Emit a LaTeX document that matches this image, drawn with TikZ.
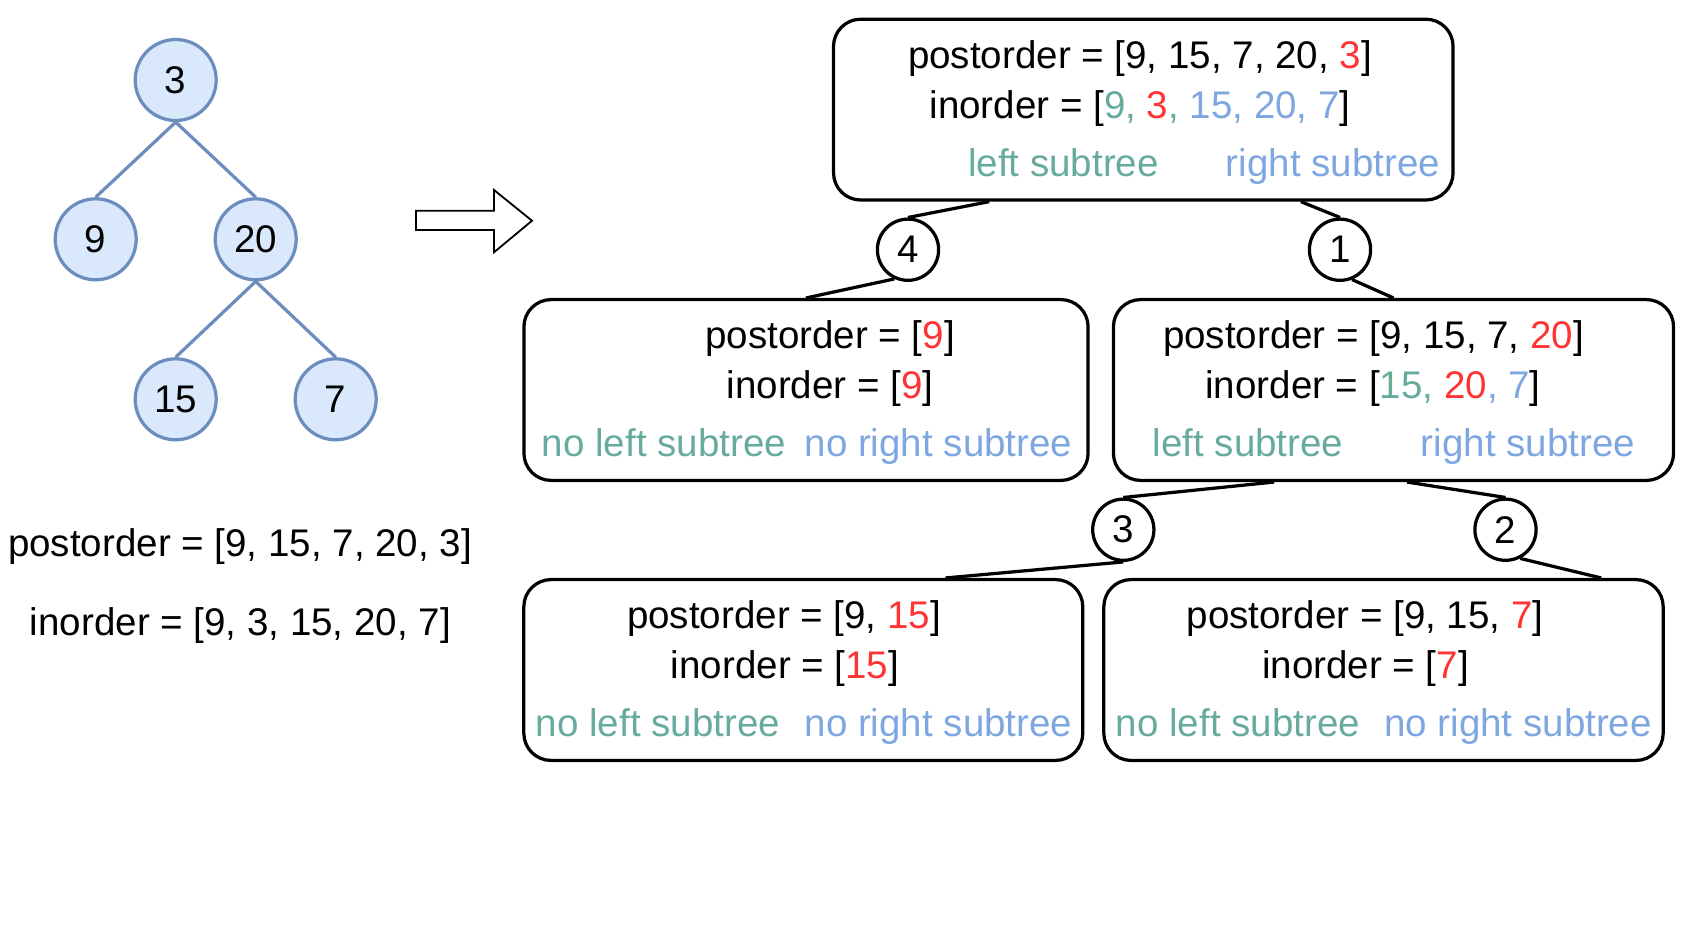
\documentclass[tikz,border=0pt]{standalone}
\usepackage{fontspec}
\setmainfont{Liberation Sans}
\usepackage{tikz}
\usetikzlibrary{positioning, calc}
\definecolor{rootRed}{HTML}{FF3333}
\definecolor{leftGreen}{HTML}{67AB9F}
\definecolor{rightBlue}{HTML}{7EA6E0}
\definecolor{treeFill}{HTML}{DAE8FC}
\definecolor{treeLine}{HTML}{6C8EBF}
\tikzstyle{treenode} =[circle, draw=treeLine, fill=treeFill, line width=2.3pt, minimum size=2.025cm, inner sep=0pt]
\tikzstyle{treeedge} =[draw=treeLine, line width=2.3pt]
\tikzstyle{stepbox} =[draw, rounded corners=0.68cm, line width=2.3pt, inner sep=0pt, minimum height=4.52cm]
\tikzstyle{stepnum} =[circle, draw, fill=white, line width=2.3pt, minimum size=1.53cm, inner sep=0pt]
\tikzstyle{order} =[anchor=base, inner sep=0pt]
\newcommand{\rootpart}[1]{\textcolor{rootRed}{#1}}
\newcommand{\leftpart}[1]{\textcolor{leftGreen}{#1}}
\newcommand{\rightpart}[1]{\textcolor{rightBlue}{#1}}

\begin{document}
\begin{tikzpicture}[x=0.025cm, y=-0.025cm, font=\fontsize{27.4pt}{33pt}\selectfont]
\useasboundingbox (0,0) rectangle (1682,942);

%input tree
\node (n3) [treenode] at (175.7,80) {3};
\node (n9) [treenode] at (95.7,239.3) {9};
\node (n20) [treenode] at (255.7,239.3) {20};
\node (n15) [treenode] at (175.7,399.3) {15};
\node (n7) [treenode] at (335.7,399.3) {7};

\draw[treeedge] (n3.south) -- (n9.north);
\draw[treeedge] (n3.south) -- (n20.north);
\draw[treeedge] (n20.south) -- (n15.north);
\draw[treeedge] (n20.south) -- (n7.north);

\node (postIn) [order] at (240,556.7) {postorder = [9, 15, 7, 20, 3]};
\node (inIn) [order] at (240.4,635) {inorder = [9, 3, 15, 20, 7]};

%arrow
\draw[line width=1.3pt] (416,210.7) -- (494,210.7) -- (494,190) -- (532,220.7) -- (494,252.3) -- (494,230) -- (416,230) -- cycle;

%boxes
\node (top) [stepbox, minimum width=15.485cm] at (1143.3,109.6) {};
\node (ml) [stepbox, minimum width=14.1cm] at (806,390) {};
\node (mr) [stepbox, minimum width=14cm] at (1393.5,390) {};
\node (bl) [stepbox, minimum width=13.97cm] at (803.3,670) {};
\node (br) [stepbox, minimum width=13.98cm] at (1383.5,670) {};

\node (topPost) [order] at (1140,68.3) {postorder = [9, 15, 7, 20, \rootpart{3}]};
\node (topIn) [order] at (1140,118.3) {inorder = [\leftpart{9,} \rootpart{3}\leftpart{,} \rightpart{15, 20, 7}]};
\node (topLeft) [order, text=leftGreen] at (1063.5,176.7) {left subtree};
\node (topRight) [order, text=rightBlue] at (1333,176.7) {right subtree};

\node (mlPost) [order] at (830,348.3) {postorder = [\rootpart{9}]};
\node (mlIn) [order] at (830,398.3) {inorder = [\rootpart{9}]};
\node (mlLeft) [order, text=leftGreen] at (664,456.7) {no left subtree};
\node (mlRight) [order, text=rightBlue] at (938.5,456.7) {no right subtree};

\node (mrPost) [order] at (1373.5,348.3) {postorder = [9, 15, 7, \rootpart{20}]};
\node (mrIn) [order] at (1373,398.3) {inorder = [\leftpart{15,} \rootpart{20}\rightpart{, 7}]};
\node (mrLeft) [order, text=leftGreen] at (1248,456.7) {left subtree};
\node (mrRight) [order, text=rightBlue] at (1528,456.7) {right subtree};

\node (blPost) [order] at (784,628.3) {postorder = [9, \rootpart{15}]};
\node (blIn) [order] at (785,678.3) {inorder = [\rootpart{15}]};
\node (blLeft) [order, text=leftGreen] at (658,736.7) {no left subtree};
\node (blRight) [order, text=rightBlue] at (938.5,736.7) {no right subtree};

\node (brPost) [order] at (1365,628.3) {postorder = [9, 15, \rootpart{7}]};
\node (brIn) [order] at (1365.5,678.3) {inorder = [\rootpart{7}]};
\node (brLeft) [order, text=leftGreen] at (1238,736.7) {no left subtree};
\node (brRight) [order, text=rightBlue] at (1518,736.7) {no right subtree};

%step numbers
\node (s4) [stepnum] at (908,249.7) {4};
\node (s1) [stepnum] at (1340,249.7) {1};
\node (s3) [stepnum] at (1123.3,529.7) {3};
\node (s2) [stepnum] at (1505.5,529.7) {2};

\coordinate (topL) at ($(top.south west)!0.2525!(top.south east)$);
\coordinate (topR) at ($(top.south west)!0.753!(top.south east)$);
\coordinate (mrL) at ($(mr.south west)!0.288!(mr.south east)$);
\coordinate (mrR) at ($(mr.south west)!0.524!(mr.south east)$);
\coordinate (blT) at ($(bl.north west)!0.753!(bl.north east)$);
\coordinate (brT) at ($(br.north west)!0.887!(br.north east)$);

\draw[line width=2.3pt, black]
	(topL) edge (s4.north)
	(s4.245) edge (ml.north);

\draw[line width=2.3pt, black]
	(topR) edge (s1.north)
	(s1.292) edge (mr.north);

\draw[line width=2.3pt, black]
	(mrL) edge (s3.north)
	(s3.south) edge (blT);

\draw[line width=2.3pt, black]
	(mrR) edge (s2.north)
	(s2.297) edge (brT);
\end{tikzpicture}
\end{document}
